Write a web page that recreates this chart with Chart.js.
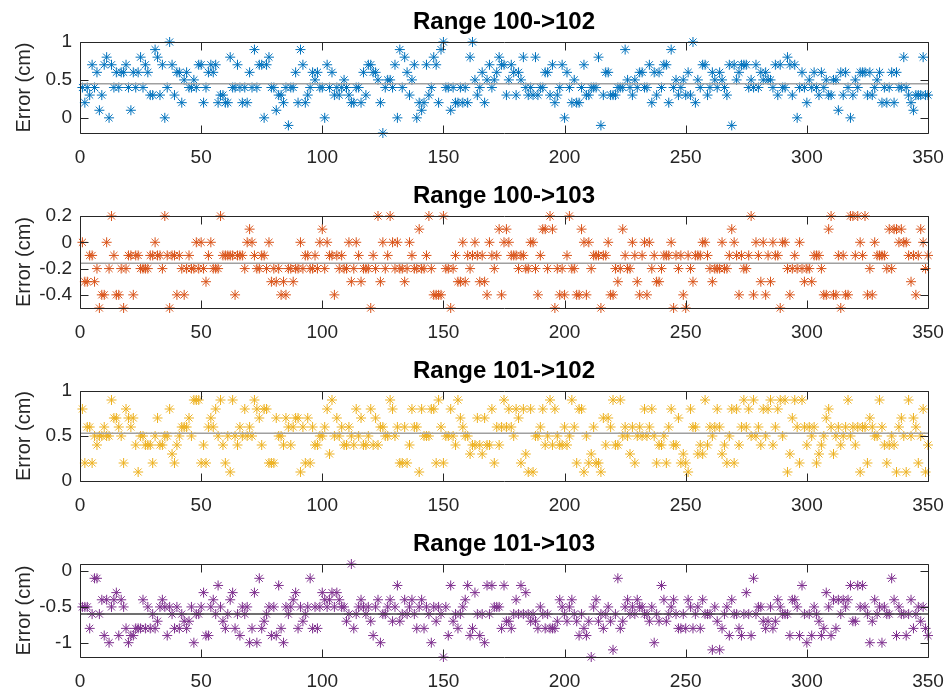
<!DOCTYPE html>
<html>
<head>
<meta charset="utf-8">
<script src="https://cdn.jsdelivr.net/npm/chart.js@4"></script>
<style>
  html, body { margin: 0; padding: 0; background: #fff; }
  #wrap { position: relative; width: 950px; height: 692px; }
  canvas { position: absolute; left: 0; }
</style>
</head>
<body>
<div id="wrap">
  <canvas id="c1" width="950" height="170" style="top:0px"></canvas>
  <canvas id="c2" width="950" height="170" style="top:174px"></canvas>
  <canvas id="c3" width="950" height="170" style="top:349px"></canvas>
  <canvas id="c4" width="950" height="170" style="top:522px"></canvas>
</div>
<script>
// 取樣序號 1..350，數值單位 cm
const xTicks = [0, 50, 100, 150, 200, 250, 300, 350];

const titles = ['Range 100->102', 'Range 100->103', 'Range 101->102', 'Range 101->103'];

const err1 = [
  0.4,0.2,0.4,0.3,0.7,0.4,0.6,0.1,0.3,0.7, 0.8,0,0.7,0.4,0.6,0.4,0.6,0.6,0.7,0.4,
  0.1,0.6,0.4,0.6,0.8,0.4,0.7,0.6,0.3,0.3, 0.9,0.8,0.3,0.7,0,0.4,1,0.7,0.3,0.6,
  0.6,0.2,0.5,0.6,0.4,0.4,0.5,0.4,0.7,0.7, 0.2,0.4,0.6,0.7,0.6,0.7,0.2,0.3,0.3,0.2,
  0.2,0.8,0.4,0.4,0.7,0.4,0.2,0.4,0.2,0.6, 0.4,0.9,0.4,0.7,0.7,0,0.7,0.8,0.4,0.4,
  0.1,0.3,0.3,0.2,0.4,-0.1,0.4,0.4,0.6,0.2, 0.9,0.7,0.2,0.3,0.4,0.6,0.5,0.6,0.4,0.4,
  0,0.7,0.4,0.6,0.3,0.4,0.3,0.4,0.5,0.4, 0.3,0.2,0.2,0.4,0.4,0.2,0.6,0.3,0.7,0.7,
  0.6,0.6,0.5,0.2,-0.2,0.4,0.5,0.5,0.4,0.7, 0,0.9,0.4,0.8,0.6,0.3,0.5,0.7,0,0.2,
  0.1,0.2,0.7,0.3,0.4,0.8,0.7,0.2,0.9,1, 0.4,0.4,0.1,0.4,0.2,0.2,0.4,0.2,0.4,0.2,
  0.8,1,0.5,0.3,0.4,0.6,0.2,0.5,0.7,0.4, 0.5,0.6,0.8,0.7,0.7,0.3,0.5,0.7,0.6,0.3,
  0.6,0.5,0.8,0.4,0.3,0.4,0.3,0.8,0.3,0.4, 0.4,0.6,0.6,0.3,0.7,0.2,0.3,0.4,0.7,0,
  0.6,0.4,0.2,0.5,0.2,0.2,0.4,0.7,0.3,0.3, 0.4,0.4,0.4,0.8,-0.1,0.3,0.6,0.6,0.3,0.3,
  0.3,0.4,0.4,0.4,0.9,0.5,0.4,0.3,0.5,0.4, 0.6,0.6,0.4,0.4,0.7,0.2,0.6,0.3,0.6,0.4,
  0.7,0.7,0.2,0.9,0.4,0.5,0.3,0.4,0.5,0.3, 0.6,0.3,1,0.2,0.5,0.4,0.7,0.7,0.3,0.4,
  0.6,0.5,0.4,0.6,0.5,0.4,0.3,0.7,-0.1,0.7, 0.5,0.6,0.7,0.7,0.7,0.4,0.5,0.4,0.7,0.4,
  0.6,0.5,0.6,0.5,0.5,0.4,0.7,0.3,0.7,0.4, 0.4,0.8,0.7,0.3,0.7,0,0.4,0.6,0.4,0.2,
  0.5,0.4,0.6,0.4,0.3,0.6,0.4,0.5,0.3,0.3, 0.5,0.5,0.1,0.6,0.3,0.6,0.4,0,0.3,0.5,
  0.4,0.6,0.6,0.6,0.3,0.6,0.3,0.4,0.5,0.6, 0.2,0.4,0.2,0.4,0.6,0.2,0.6,0.4,0.4,0.8,
  0.4,0.3,0.2,0.1,0.3,0.3,0.3,0.8,0.3,0.3
];

const err2 = [
  0,-0.3,-0.3,-0.1,-0.1,-0.3,-0.2,-0.5,-0.4,-0.4, 0,-0.2,0.2,-0.1,-0.4,-0.4,-0.2,-0.5,-0.2,-0.1,
  -0.1,-0.4,-0.1,-0.1,-0.2,-0.2,-0.2,-0.2,-0.1,-0.1, 0,-0.1,-0.1,-0.2,0.2,-0.1,-0.5,-0.1,-0.1,-0.4,
  -0.1,-0.2,-0.4,-0.2,-0.1,-0.2,-0.2,0,-0.2,0, -0.2,-0.3,-0.1,0,-0.2,-0.2,-0.2,0.2,-0.1,-0.1,
  -0.1,-0.1,-0.1,-0.4,-0.1,-0.1,-0.1,-0.2,0,0.1, 0,-0.1,-0.2,-0.2,-0.1,-0.1,-0.2,0,-0.3,-0.2,
  -0.3,-0.2,-0.4,-0.3,-0.4,-0.2,-0.2,-0.3,-0.2,-0.2, 0,-0.2,-0.1,-0.1,-0.2,-0.2,-0.1,-0.2,0,0.1,
  -0.2,0,-0.1,-0.1,-0.4,-0.1,-0.2,-0.1,-0.2,-0.2, 0,-0.3,-0.2,0,-0.1,-0.3,-0.2,-0.2,-0.2,-0.5,
  -0.1,-0.2,0.2,-0.3,0,-0.2,-0.1,0.2,0,-0.2, 0,-0.2,-0.2,-0.3,-0.2,0,-0.1,-0.2,-0.2,0.1,
  -0.2,-0.2,-0.1,0.2,-0.2,-0.4,-0.4,-0.4,-0.4,0.2, -0.2,-0.2,-0.5,-0.2,-0.1,-0.3,-0.3,0,-0.3,-0.1,
  -0.2,-0.1,0,-0.1,-0.3,-0.1,-0.3,-0.4,0,-0.1, -0.2,-0.1,0.1,-0.4,0,0.1,0,-0.1,-0.1,-0.1,
  -0.2,-0.1,-0.1,-0.2,-0.2,0,0,-0.2,-0.4,-0.1, 0.1,0.1,-0.2,0.2,0.1,-0.5,-0.2,-0.4,-0.2,-0.4,
  -0.1,0.2,-0.2,-0.2,-0.4,-0.4,0.1,0,-0.4,0, -0.2,-0.1,-0.1,-0.1,-0.5,-0.1,-0.1,0,-0.4,-0.4,
  -0.2,-0.3,-0.2,0.1,-0.1,-0.2,-0.2,0,-0.1,-0.3, -0.4,-0.1,0,-0.4,0,-0.2,-0.1,-0.3,-0.3,-0.2,
  -0.1,-0.1,-0.1,0,-0.5,-0.1,-0.2,-0.1,-0.4,-0.5, -0.1,-0.2,-0.3,-0.1,-0.1,-0.1,0,0,-0.1,-0.2,
  -0.3,-0.2,-0.2,-0.2,0,-0.2,-0.2,-0.1,0.1,0, -0.1,-0.4,-0.1,-0.2,-0.2,-0.1,0.2,-0.4,0,-0.1,
  -0.3,0,-0.4,-0.1,-0.3,0,-0.1,-0.1,-0.5,0, 0,-0.2,-0.4,-0.2,-0.1,-0.2,0,-0.2,-0.3,-0.2,
  -0.2,-0.3,-0.1,-0.1,-0.1,-0.2,-0.4,-0.4,0.1,0.2, -0.4,-0.4,-0.1,-0.5,-0.1,-0.4,-0.4,0.2,0.2,-0.1,
  0.2,0,-0.1,0.2,-0.4,-0.2,-0.4,0,-0.1,-0.1, -0.1,-0.1,-0.2,0.1,-0.2,0.1,0.1,0,0.1,0,
  0,-0.1,-0.3,-0.1,-0.4,-0.1,0.1,0,-0.2,-0.1
];

const err3 = [
  0.8,0.2,0.6,0.6,0.2,0.5,0.4,0.5,0.5,0.6, 0.5,0.5,0.9,0.7,0.7,0.6,0.5,0.2,0.8,0.7,
  0.6,0.7,0.4,0.1,0.5,0.5,0.4,0.4,0.4,0.2, 0.5,0.7,0.4,0.4,0.5,0.5,0.8,0.3,0.2,0.4,
  0.5,0.6,0.6,0.6,0.7,0.5,0.9,0.9,0.9,0.2, 0.4,0.2,0.6,0.7,0.6,0.8,0.5,0.9,0.4,0.2,
  0.5,0.1,0.9,0.5,0.4,0.6,0.5,0.8,0.5,0.6, 0.5,0.9,0.8,0.7,0.4,0.8,0.8,0.2,0.2,0.2,
  0.7,0.5,0.5,0.4,0.7,0.6,0.4,0.6,0.7,0.7, 0.1,0.6,0.2,0.7,0.2,0.6,0.4,0.4,0.5,0.5,
  0.6,0.8,0.3,0.9,0.5,0.7,0.5,0.6,0.4,0.4, 0.6,0.5,0.4,0.8,0.5,0.7,0.4,0.4,0.5,0.8,
  0.4,0.7,0.4,0.6,0.6,0.5,0.5,0.9,0.8,0.5, 0.6,0.2,0.2,0.6,0.2,0.4,0.8,0.6,0.6,0.1,
  0.8,0.5,0.5,0.5,0.8,0.8,0.2,0.9,0.6,0.2, 0.5,0.5,0.8,0.5,0.4,0.9,0.7,0.6,0.5,0.5,
  0.3,0.4,0.4,0.7,0.4,0.3,0.7,0.4,0.4,0.8, 0.2,0.6,0.4,0.6,0.9,0.6,0.8,0.6,0.5,0.8,
  0.7,0.2,0.8,0.3,0.1,0.8,0.1,0.5,0.5,0.6, 0.8,0.4,0.5,0.9,0.4,0.8,0.5,0.4,0.4,0.6,
  0.4,0.5,0.9,0.6,0.2,0.8,0.8,0.1,0.5,0.2, 0.3,0.6,0.2,0.2,0.1,0.7,0.4,0.7,0.6,0.9,
  0.4,0.4,0.9,0.5,0.6,0.5,0.3,0.6,0.2,0.5, 0.6,0.5,0.8,0.5,0.6,0.8,0.5,0.2,0.4,0.4,
  0.5,0.2,0.6,0.8,0.4,0.4,0.7,0.2,0.3,0.2, 0.1,0.8,0.6,0.6,0.3,0.4,0.3,0.9,0.4,0.6,
  0.5,0.6,0.8,0.6,0.3,0.4,0.2,0.5,0.8,0.2, 0.8,0.4,0.6,0.9,0.6,0.8,0.5,0.9,0.5,0.6,
  0.4,0.8,0.5,0.8,0.9,0.4,0.6,0.8,0.9,0.5, 0.9,0.1,0.3,0.7,0.9,0.6,0.2,0.9,0.6,0.4,
  0.6,0.5,0.6,0.2,0.3,0.4,0.5,0.7,0.8,0.6, 0.3,0.5,0.6,0.4,0.5,0.6,0.9,0.5,0.6,0.4,
  0.6,0.1,0.6,0.6,0.2,0.7,0.6,0.5,0.5,0.9, 0.6,0.4,0.2,0.4,0.5,0.4,0.1,0.6,0.7,0.5,
  0.1,0.9,0.5,0.7,0.6,0.2,0.5,0.8,0.1,0.4
];

const err4 = [
  -0.5,-0.5,-0.5,-0.8,-0.6,-0.1,-0.1,-0.6,-0.4,-0.9, -0.4,-1,-0.5,-0.4,-0.3,-0.9,-0.4,-0.5,-0.8,-1,
  -0.9,-0.9,-0.8,-0.8,-0.8,-0.4,-0.8,-0.5,-0.8,-0.6, -0.8,-0.7,-0.5,-0.4,-0.5,-0.9,-0.5,-0.6,-0.8,-0.5,
  -0.8,-0.6,-0.7,-0.8,-0.7,-0.5,-1,-0.6,-0.6,-0.5, -0.3,-0.9,-0.9,-0.5,-0.4,-0.6,-0.2,-0.5,-0.7,-0.8,
  -0.6,-0.4,-0.3,-0.8,-0.6,-0.9,-0.5,-0.6,-0.5,-1, -0.8,-0.3,-1,-0.1,-0.8,-0.7,-0.6,-0.5,-0.9,-0.5,
  -0.9,-0.2,-0.8,-1,-0.5,-0.6,-0.5,-0.4,-0.3,-0.8, -0.5,-0.7,-0.6,-0.5,-0.1,-0.8,-0.5,-0.8,-0.5,-0.3,
  -0.4,-0.5,-0.4,-0.3,-0.5,-0.3,-0.4,-0.5,-0.5,-0.7, -0.6,0.1,-0.8,-0.6,-0.5,-0.4,-0.5,-0.6,-0.5,-0.7,
  -0.9,-0.5,-0.4,-1,-0.6,-0.6,-0.5,-0.4,-0.7,-0.5, -0.2,-0.7,-0.6,-0.4,-0.6,-0.5,-0.4,-0.6,-0.8,-0.5,
  -0.4,-0.8,-0.5,-0.6,-1,-0.5,-0.7,-0.5,-0.6,-1.2, -0.5,-0.9,-0.2,-0.7,-0.6,-0.8,-0.6,-0.5,-0.4,-0.2,
  -0.9,-0.8,-0.3,-0.6,-0.9,-0.6,-1,-0.2,-0.6,-0.2, -0.5,-0.5,-0.5,-0.8,-0.2,-0.7,-0.7,-0.8,-0.6,-0.4,
  -0.6,-0.2,-0.6,-0.3,-0.6,-0.7,-0.6,-0.7,-0.8,-0.5, -0.6,-0.8,-0.6,-0.8,-0.8,-0.8,-0.7,-0.4,-0.5,-0.6,
  -0.7,-0.5,-0.4,-0.6,-0.7,-0.9,-0.6,-0.8,-0.9,-0.7, -1.2,-0.5,-0.4,-0.7,-0.6,-0.8,-0.6,-0.5,-0.7,-1.1,
  -0.6,-0.1,-0.8,-0.7,-0.5,-0.4,-0.6,-0.5,-0.6,-0.4, -0.5,-0.5,-0.6,-0.6,-0.7,-0.5,-1,-0.6,-0.7,-0.2,
  -0.4,-0.7,-0.6,-0.5,-0.4,-0.6,-0.8,-0.8,-0.6,-0.8, -0.4,-0.5,-0.8,-0.6,-0.5,-0.8,-0.4,-0.6,-0.6,-0.6,
  -1.1,-0.5,-0.7,-1.1,-0.8,-0.6,-0.5,-0.9,-0.4,-0.6, -0.6,-0.8,-0.9,-0.6,-0.3,-0.6,-0.9,-0.1,-0.6,-0.5,
  -0.5,-0.7,-0.8,-0.7,-0.5,-0.8,-0.7,-0.4,-0.5,-0.6, -0.6,-0.6,-0.9,-0.4,-0.4,-0.5,-0.9,-0.2,-0.6,-1,
  -0.6,-0.9,-0.5,-0.6,-0.7,-0.9,-0.8,-0.3,-0.5,-0.9, -0.4,-0.8,-0.4,-0.6,-0.4,-0.5,-0.4,-0.2,-0.7,-0.7,
  -0.2,-0.5,-0.2,-0.5,-0.6,-1,-0.7,-0.4,-0.6,-0.5, -1,-0.5,-0.6,-0.6,-0.1,-0.4,-0.9,-0.5,-0.6,-0.6,
  -0.9,-0.6,-0.4,-0.8,-0.6,-0.5,-0.7,-0.5,-0.8,-0.9
];

// 各組平均誤差（灰線）
const means = [0.45, -0.16, 0.53, -0.6];

// y 軸範圍與刻度
const yLims = [[-0.2, 1], [-0.5, 0.2], [0, 1], [-1.2, 0.1]];
const yTicks1 = [0, 0.5, 1];
const yTicks2 = [-0.4, -0.2, 0, 0.2];
const yTicks3 = [0, 0.5, 1];
const yTicks4 = [-1, -0.5, 0];

const FONT = '"Liberation Sans", Arial, Helvetica, sans-serif';
const AXIS_COLOR = '#262626';

// MATLAB 風格：外框、內向刻度、標題、y 軸標籤
const matlabAxes = {
  id: 'matlabAxes',
  afterDatasetsDraw(chart, args, opts) {
    const { ctx, chartArea: a, scales: { x, y } } = chart;
    const L = Math.round(a.left) + 0.5, R = Math.round(a.right) + 0.5;
    const T = Math.round(a.top) + 0.5, B = Math.round(a.bottom) + 0.5;
    const tl = 8;
    ctx.save();
    ctx.strokeStyle = AXIS_COLOR;
    ctx.lineWidth = 1;
    ctx.beginPath();
    ctx.rect(L, T, R - L, B - T);
    x.ticks.forEach(t => {
      const px = Math.round(x.getPixelForValue(t.value)) + 0.5;
      ctx.moveTo(px, B); ctx.lineTo(px, B - tl);
      ctx.moveTo(px, T); ctx.lineTo(px, T + tl);
    });
    y.ticks.forEach(t => {
      const py = Math.round(y.getPixelForValue(t.value)) + 0.5;
      ctx.moveTo(L, py); ctx.lineTo(L + tl, py);
      ctx.moveTo(R, py); ctx.lineTo(R - tl, py);
    });
    ctx.stroke();

    ctx.fillStyle = '#000';
    ctx.font = 'bold 24px ' + FONT;
    ctx.textAlign = 'center';
    ctx.textBaseline = 'alphabetic';
    ctx.fillText(opts.title, (a.left + a.right) / 2, a.top - 13);

    ctx.fillStyle = AXIS_COLOR;
    ctx.font = '20px ' + FONT;
    ctx.translate(24, (a.top + a.bottom) / 2);
    ctx.rotate(-Math.PI / 2);
    ctx.textBaseline = 'middle';
    ctx.fillText('Error (cm)', 0, 0);
    ctx.restore();
  }
};

function makeChart(id, values, color, mean, meanColor, lim, yTicks, title, bottomPad) {
  return new Chart(document.getElementById(id), {
    type: 'scatter',
    data: {
      datasets: [
        {
          data: values.map((v, i) => ({ x: i + 1, y: v })),
          pointStyle: 'star',
          pointRadius: 5,
          borderColor: color,
          backgroundColor: color,
          borderWidth: 1,
          clip: false,
          order: 2
        },
        {
          data: [{ x: 0, y: mean }, { x: 350, y: mean }],
          showLine: true,
          pointRadius: 0,
          borderColor: meanColor,
          borderWidth: 1.5,
          order: 1
        }
      ]
    },
    options: {
      responsive: false,
      animation: false,
      events: [],
      layout: { padding: { top: 42, right: 22, bottom: bottomPad, left: 0 } },
      plugins: {
        legend: { display: false },
        tooltip: { enabled: false },
        matlabAxes: { title }
      },
      scales: {
        x: {
          type: 'linear', min: 0, max: 350,
          grid: { display: false, drawTicks: false },
          border: { display: false },
          afterBuildTicks: s => { s.ticks = xTicks.map(v => ({ value: v })); },
          afterFit: s => { s.height = 32; s.paddingLeft = 0; s.paddingRight = 0; },
          ticks: { autoSkip: false, maxRotation: 0, padding: 13, color: AXIS_COLOR, font: { family: FONT, size: 19 }, callback: v => String(v) }
        },
        y: {
          type: 'linear', min: lim[0], max: lim[1],
          grid: { display: false, drawTicks: false },
          border: { display: false },
          afterBuildTicks: s => { s.ticks = yTicks.map(v => ({ value: v })); },
          afterFit: s => { s.width = 80; s.paddingTop = 0; s.paddingBottom = 0; },
          ticks: { padding: 8, color: AXIS_COLOR, font: { family: FONT, size: 19 }, callback: v => String(v) }
        }
      }
    },
    plugins: [matlabAxes]
  });
}

makeChart('c1', err1, '#0072BD', means[0], '#a0a0a0', yLims[0], yTicks1, titles[0], 5);
makeChart('c2', err2, '#D95319', means[1], '#a0a0a0', yLims[1], yTicks2, titles[1], 4);
makeChart('c3', err3, '#EDB120', means[2], '#a0a0a0', yLims[2], yTicks3, titles[2], 6);
makeChart('c4', err4, '#7E2F8E', means[3], '#404040', yLims[3], yTicks4, titles[3], 3);
</script>
</body>
</html>
